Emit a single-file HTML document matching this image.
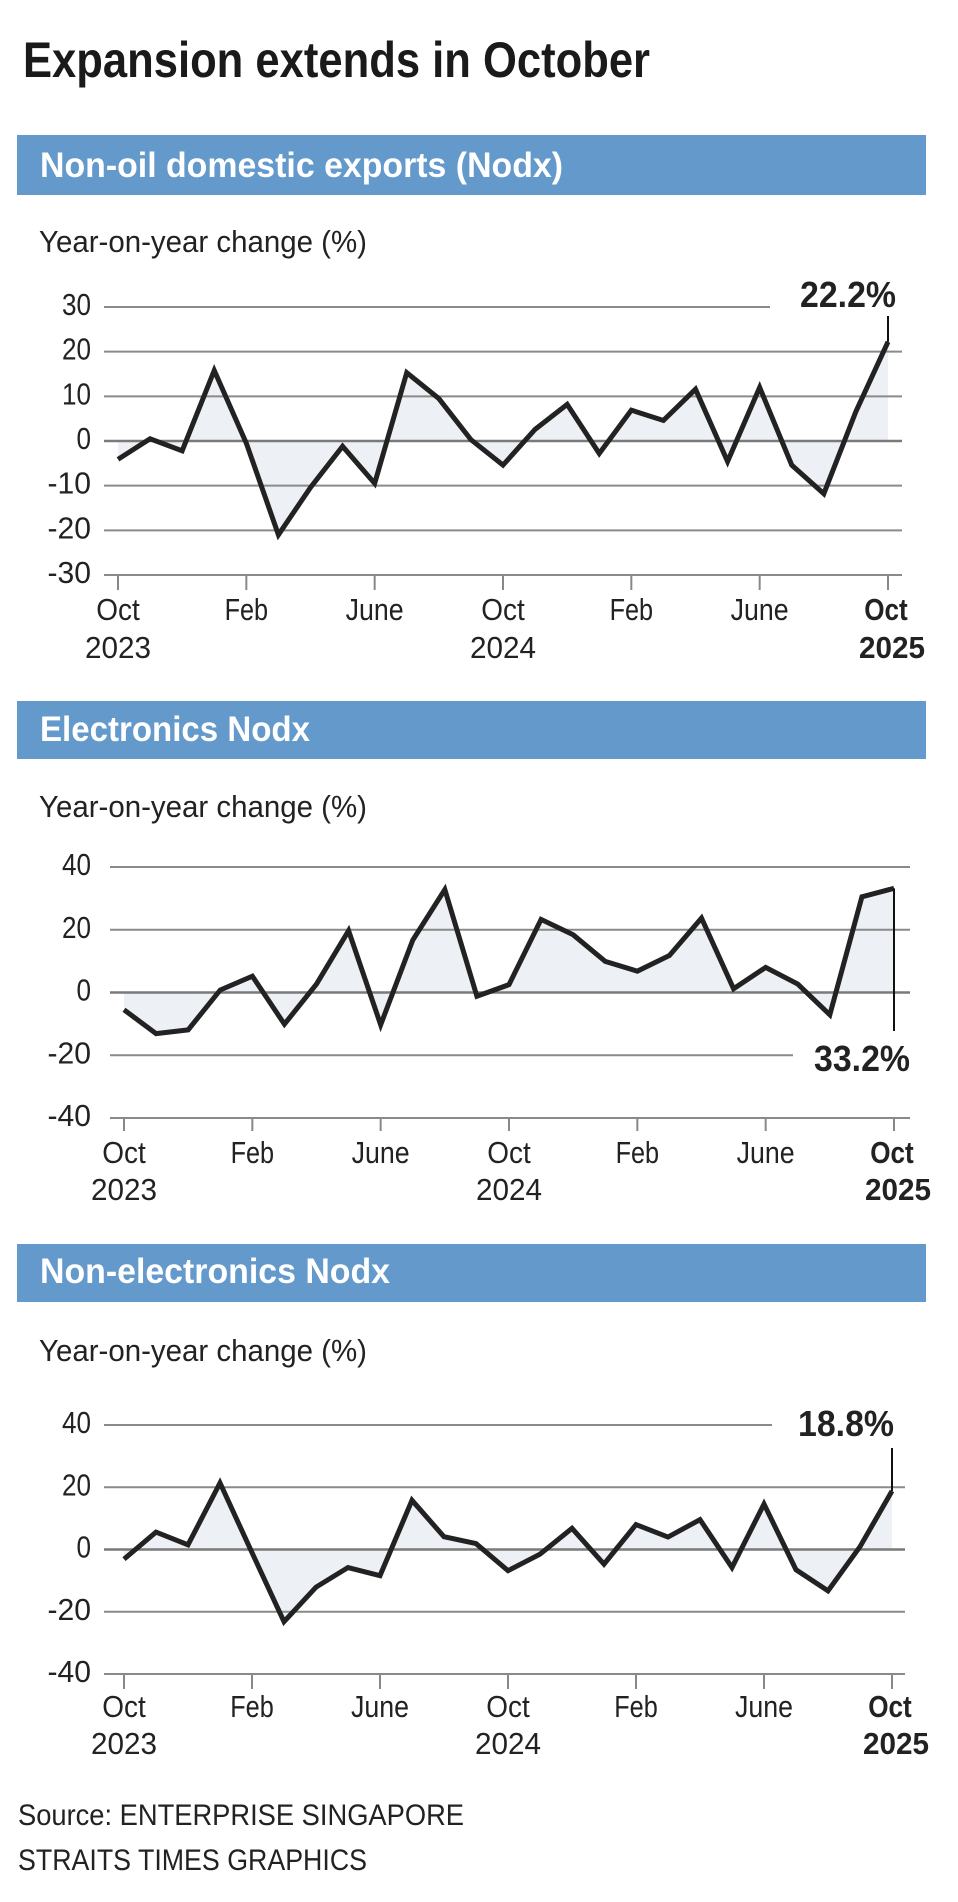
<!DOCTYPE html>
<html><head><meta charset="utf-8"><style>
html,body{margin:0;padding:0;background:#fff}
svg{display:block}
text{font-family:"Liberation Sans",sans-serif}
</style></head><body>
<svg id="root" width="958" height="1902" viewBox="0 0 958 1902" xmlns="http://www.w3.org/2000/svg">
<text x="23" y="77" font-size="50" font-weight="bold" fill="#1a1a1a" textLength="627" lengthAdjust="spacingAndGlyphs">Expansion extends in October</text>
<text x="18" y="1825" font-size="30" fill="#222" textLength="446" lengthAdjust="spacingAndGlyphs">Source: ENTERPRISE SINGAPORE</text>
<text x="18" y="1870" font-size="30" fill="#222" textLength="349" lengthAdjust="spacingAndGlyphs">STRAITS TIMES GRAPHICS</text>
</svg>
<script>
const months = ["Oct 2023","Nov","Dec","Jan","Feb","Mar","Apr","May","June","Jul","Aug","Sep","Oct 2024","Nov","Dec","Jan","Feb","Mar","Apr","May","June","Jul","Aug","Sep","Oct 2025"];
const nodxValues = [-4.1,0.5,-2.2,15.8,-0.5,-21,-10.4,-1.2,-9.5,15.3,9.5,0.3,-5.4,2.6,8.2,-2.8,6.9,4.6,11.6,-4.6,12.0,-5.4,-11.8,6.6,22.2];
const electronicsValues = [-5.5,-13.1,-11.9,0.8,5.2,-10.1,2.7,19.7,-10.3,16.7,32.8,-1.2,2.5,23.3,18.4,9.9,6.8,11.8,23.7,1.2,8.0,2.7,-7.1,30.5,33.2];
const nonElectronicsValues = [-3.1,5.6,1.5,21.4,-1,-23.2,-12.1,-5.8,-8.4,15.8,4.1,1.9,-6.8,-1.5,6.8,-4.7,8.0,4.0,9.6,-5.8,14.6,-6.5,-13.3,0.9,18.8];
const nodxTicks = [30,20,10,0,-10,-20,-30];
const elecTicks = [40,20,0,-20,-40];
const nonElecTicks = [40,20,0,-20,-40];
const xTickIdx = [0,4,8,12,16,20,24];
const xTickTop = ["Oct","Feb","June","Oct","Feb","June","Oct"];
const xTickBottom = ["2023","","","2024","","","2025"];
const annotations = ["22.2%","33.2%","18.8%"];

const NS="http://www.w3.org/2000/svg";
const root=document.getElementById('root');
function mk(tag,attrs,parent){const e=document.createElementNS(NS,tag);for(const k in attrs)e.setAttribute(k,attrs[k]);(parent||root).appendChild(e);return e;}

const cfgs=[
 {key:"nodx",title:"Non-oil domestic exports (Nodx)",titleLen:523,bTop:135,bBot:195,tBase:177,label:252,vals:nodxValues,ticks:nodxTicks,vMax:30,vMin:-30,yTop:307,yBot:575,gx0:104,gx1:902,tx0:118,tx1:888,tickBot:590,lb1:620,lb2:658,ann:annotations[0],annBase:307,annRight:896,annLineEnd:316,shortIdx:0,shortEnd:770},
 {key:"electronics",title:"Electronics Nodx",titleLen:270,bTop:701,bBot:759,tBase:741,label:817,vals:electronicsValues,ticks:elecTicks,vMax:40,vMin:-40,yTop:867,yBot:1118,gx0:110,gx1:910,tx0:124,tx1:894,tickBot:1131,lb1:1163,lb2:1200,ann:annotations[1],annBase:1071,annRight:910,annLineEnd:1031,shortIdx:3,shortEnd:793},
 {key:"non-electronics",title:"Non-electronics Nodx",titleLen:350,bTop:1244,bBot:1302,tBase:1283,label:1361,vals:nonElectronicsValues,ticks:nonElecTicks,vMax:40,vMin:-40,yTop:1425,yBot:1674,gx0:104,gx1:905,tx0:124,tx1:892,tickBot:1689,lb1:1717,lb2:1754,ann:annotations[2],annBase:1436,annRight:894,annLineEnd:1448,shortIdx:0,shortEnd:772}
];

cfgs.forEach(c=>{
 const g=mk('g',{});
 
 
 const ban=mk('rect',{x:17,y:c.bTop,width:909,height:c.bBot-c.bTop,fill:"#6499cc"},g);
 
 
 const bt=mk('text',{x:40,y:c.tBase,"font-size":35,"font-weight":"bold",fill:"#fff",textLength:c.titleLen,lengthAdjust:"spacingAndGlyphs"},g);
 bt.textContent=c.title;
 
 
 const yl=mk('text',{x:39,y:c.label,"font-size":31,fill:"#222",textLength:328,lengthAdjust:"spacingAndGlyphs"},g);
 yl.textContent="Year-on-year change (%)";
 
 
 const y=v=>c.yTop+(c.vMax-v)/(c.vMax-c.vMin)*(c.yBot-c.yTop);
 const x=i=>c.tx0+i*(c.tx1-c.tx0)/(months.length-1);
 let d="M"+x(0)+","+y(0);
 c.vals.forEach((v,i)=>{d+=" L"+x(i)+","+y(v);});
 d+=" L"+x(c.vals.length-1)+","+y(0)+" Z";
 const area=mk('path',{d:d,fill:"#edf0f4"},g);
 
 
 c.ticks.forEach((t,k)=>{
  const end=(k===c.shortIdx)?c.shortEnd:c.gx1;
  const gl=mk('line',{x1:c.gx0,x2:end,y1:y(t),y2:y(t),stroke:t===0?"#7a7a7a":"#8a8a8a","stroke-width":t===0?2.5:2},g);
  
  
  const s=String(t);
  const tl=mk('text',{x:91,y:y(t)+8,"font-size":31,fill:"#222","text-anchor":"end",textLength:s.length*14.5,lengthAdjust:"spacingAndGlyphs"},g);
  tl.textContent=s;
  
  
 });
 xTickIdx.forEach((idx,k)=>{
  const tk=mk('line',{x1:x(idx),x2:x(idx),y1:c.yBot,y2:c.tickBot,stroke:"#888","stroke-width":2},g);
  
  
  const last=k===xTickIdx.length-1;
  const t1=mk('text',{x:last?x(idx)-2:x(idx),y:c.lb1,"font-size":31,fill:"#222","text-anchor":"middle","font-weight":last?"bold":"normal",textLength:xTickTop[k].length*14.5,lengthAdjust:"spacingAndGlyphs"},g);
  t1.textContent=xTickTop[k];
  
  
  if(xTickBottom[k]){
   const t2=mk('text',{x:last?x(idx)+4:x(idx),y:c.lb2,"font-size":31,fill:"#222","text-anchor":"middle","font-weight":last?"bold":"normal",textLength:66,lengthAdjust:"spacingAndGlyphs"},g);
   t2.textContent=xTickBottom[k];
   
   
  }
 });
 const pts=c.vals.map((v,i)=>x(i)+","+y(v)).join(" ");
 const ln=mk('polyline',{points:pts,fill:"none",stroke:"#222","stroke-width":5,"stroke-linejoin":"miter","stroke-miterlimit":3},g);
 
 
 const li=c.vals.length-1;
 const al=mk('line',{x1:x(li),x2:x(li),y1:y(c.vals[li]),y2:c.annLineEnd,stroke:"#111","stroke-width":2},g);
 
 
 const at=mk('text',{x:c.annRight,y:c.annBase,"font-size":36,"font-weight":"bold",fill:"#222","text-anchor":"end",textLength:96,lengthAdjust:"spacingAndGlyphs"},g);
 at.textContent=c.ann;
 
 
});
</script>
</body></html>
